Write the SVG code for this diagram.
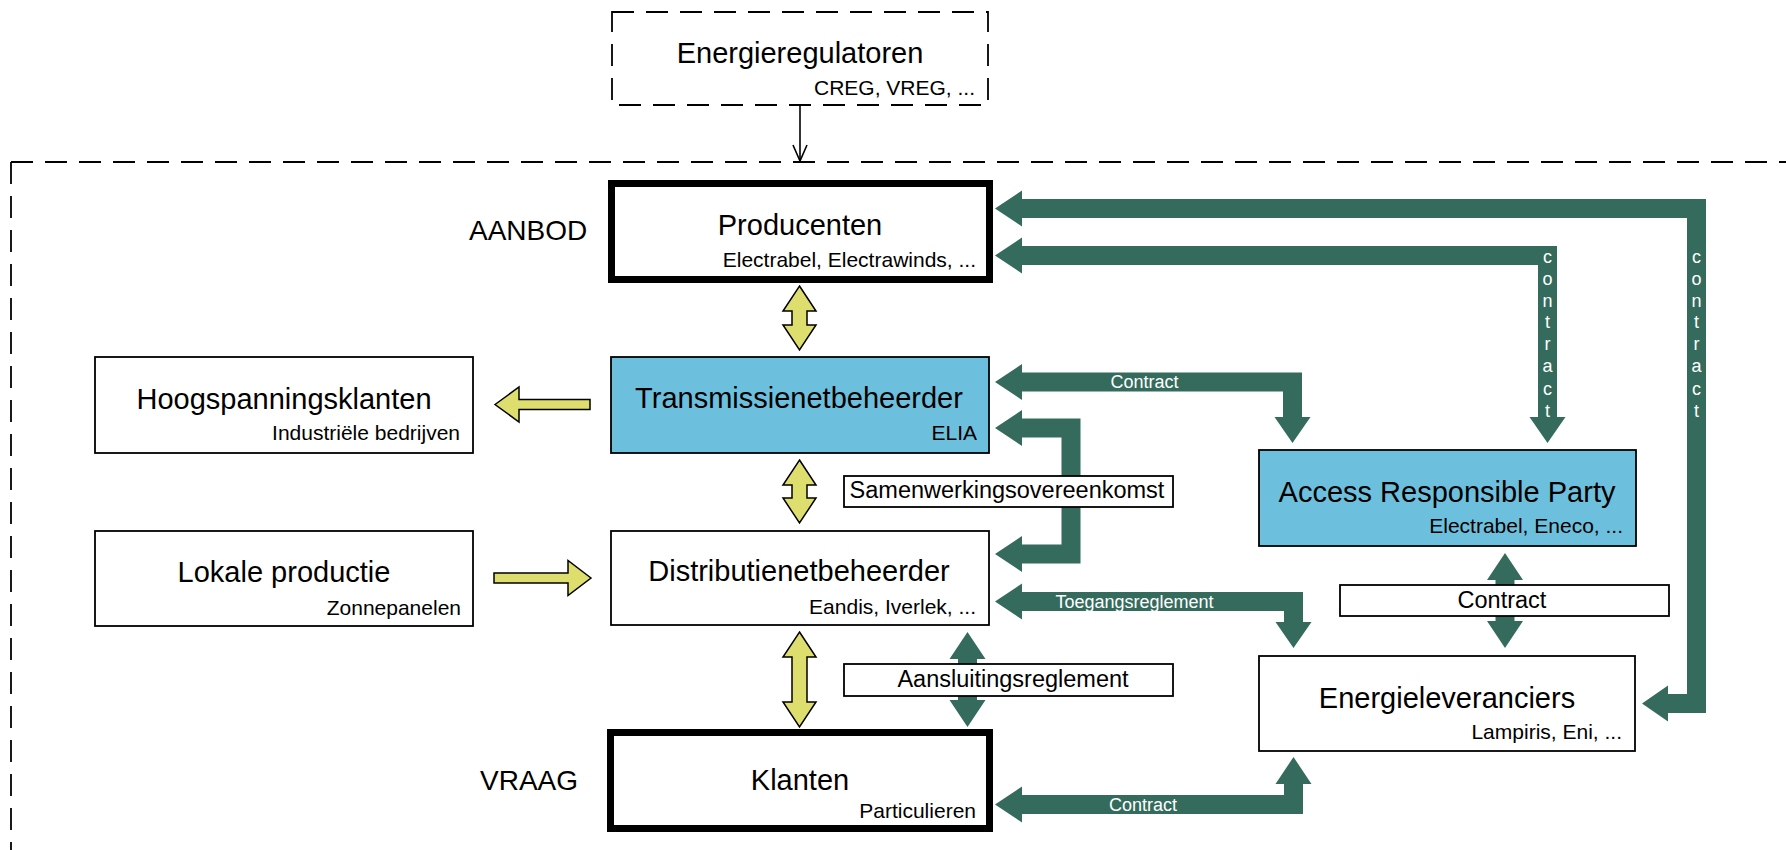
<svg xmlns="http://www.w3.org/2000/svg" width="1786" height="850" viewBox="0 0 1786 850">
<style>
.t{font-family:"Liberation Sans",Arial,sans-serif;fill:#000}
.title{font-size:29px;text-anchor:middle}
.sub{font-size:21px;text-anchor:end}
.side{font-size:28px}
.lbl{font-size:23.5px;text-anchor:middle}
.wl{font-size:18px;fill:#fff;text-anchor:middle}
.box{fill:#fff;stroke:#000;stroke-width:1.8}
.blue{fill:#6cc0dd}
.thick{fill:#fff;stroke:#000;stroke-width:7}
.g{fill:#356b5c}
.y{fill:#dede6e;stroke:#000;stroke-width:1.5;stroke-linejoin:miter}
.dash{fill:none;stroke:#000;stroke-width:1.8;stroke-dasharray:22 12}
.ln{fill:none;stroke:#000;stroke-width:1.6}
</style>
<rect x="0" y="0" width="1786" height="850" fill="#fff"/>

<g id="frame">
  <path class="dash" d="M11,162 H1786 M11,162 V850"/>
</g>

<g id="connectors">
  <!-- regulator to frame -->
  <line class="ln" x1="800" y1="105" x2="800" y2="161"/>
  <polyline class="ln" points="793,145 800,161 807,145"/>

  <!-- green block arrows -->
  <polygon class="g" points="995,208.5 1022,190.5 1022,199 1706,199 1706,713 1668,713 1668,721.5 1642,703.5 1668,685.5 1668,694 1687,694 1687,218 1022,218 1022,226.5"/>
  <polygon class="g" points="995,255.5 1022,237.5 1022,246 1557,246 1557,417 1565.5,417 1547.5,443 1529.5,417 1538,417 1538,265 1022,265 1022,273.5"/>
  <polygon class="g" points="995,382 1022,364 1022,372.5 1302,372.5 1302,417 1310.5,417 1292.5,443 1274.5,417 1283,417 1283,391.5 1022,391.5 1022,400"/>
  <polygon class="g" points="995,428 1022,410 1022,418.5 1080.5,418.5 1080.5,563.5 1022,563.5 1022,572 995,554 1022,536 1022,544.5 1061.5,544.5 1061.5,437.5 1022,437.5 1022,446"/>
  <polygon class="g" points="995,601.5 1022,583.5 1022,592 1303,592 1303,622 1311.5,622 1293.5,648 1275.5,622 1284,622 1284,611 1022,611 1022,619.5"/>
  <polygon class="g" points="995,804.5 1022,786.5 1022,795 1284,795 1284,784 1275.5,784 1293.5,757 1311.5,784 1303,784 1303,814 1022,814 1022,822.5"/>
  <polygon class="g" points="967.5,632 985.5,659 977,659 977,700 985.5,700 967.5,727 949.5,700 958,700 958,659 949.5,659"/>
  <polygon class="g" points="1505,553 1523,580 1514.5,580 1514.5,621 1523,621 1505,648 1487,621 1495.5,621 1495.5,580 1487,580"/>

  <!-- white labels on green arrows -->
  <text class="t wl" x="1144.5" y="388">Contract</text>
  <text class="t wl" x="1134.5" y="608">Toegangsreglement</text>
  <text class="t wl" x="1143" y="811">Contract</text>
  <text class="t wl"><tspan x="1547.5" y="263">c</tspan><tspan x="1547.5" y="285">o</tspan><tspan x="1547.5" y="307">n</tspan><tspan x="1547.5" y="328">t</tspan><tspan x="1547.5" y="350">r</tspan><tspan x="1547.5" y="372">a</tspan><tspan x="1547.5" y="395">c</tspan><tspan x="1547.5" y="417">t</tspan></text>
  <text class="t wl"><tspan x="1696.5" y="263">c</tspan><tspan x="1696.5" y="285">o</tspan><tspan x="1696.5" y="307">n</tspan><tspan x="1696.5" y="328">t</tspan><tspan x="1696.5" y="350">r</tspan><tspan x="1696.5" y="372">a</tspan><tspan x="1696.5" y="395">c</tspan><tspan x="1696.5" y="417">t</tspan></text>

  <!-- yellow arrows -->
  <polygon class="y" points="799.5,286 816,311 807,311 807,325 816,325 799.5,350 783,325 792,325 792,311 783,311"/>
  <polygon class="y" points="799.5,460 816,485 807,485 807,498 816,498 799.5,523 783,498 792,498 792,485 783,485"/>
  <polygon class="y" points="799.5,632 816,657 807,657 807,702 816,702 799.5,727 783,702 792,702 792,657 783,657"/>
  <polygon class="y" points="495,404.5 519,387 519,399.5 590,399.5 590,409.5 519,409.5 519,422"/>
  <polygon class="y" points="591,578 568,560.5 568,573 494,573 494,583 568,583 568,595.5"/>

  <!-- boxed labels -->
  <g id="lbl-samenwerking">
    <rect class="box" x="844" y="476" width="329" height="31"/>
    <text class="t lbl" x="1007" y="498">Samenwerkingsovereenkomst</text>
  </g>
  <g id="lbl-aansluiting">
    <rect class="box" x="844" y="664" width="329" height="32"/>
    <text class="t lbl" x="1013" y="687">Aansluitingsreglement</text>
  </g>
  <g id="lbl-contract">
    <rect class="box" x="1340" y="585" width="329" height="31"/>
    <text class="t lbl" x="1502" y="608">Contract</text>
  </g>
</g>

<g id="energieregulatoren">
  <rect class="dash" x="612" y="12" width="376" height="93"/>
  <text class="t title" x="800" y="63">Energieregulatoren</text>
  <text class="t sub" x="975" y="95">CREG, VREG, ...</text>
</g>

<g id="aanbod"><text class="t side" x="469" y="240">AANBOD</text></g>
<g id="vraag"><text class="t side" x="480" y="790">VRAAG</text></g>

<g id="producenten">
  <rect class="thick" x="611.5" y="183.5" width="378" height="96"/>
  <text class="t title" x="800" y="235">Producenten</text>
  <text class="t sub" x="976" y="267">Electrabel, Electrawinds, ...</text>
</g>

<g id="transmissie">
  <rect class="box blue" x="611" y="357" width="378" height="96"/>
  <text class="t title" x="799" y="408">Transmissienetbeheerder</text>
  <text class="t sub" x="977" y="440">ELIA</text>
</g>

<g id="distributie">
  <rect class="box" x="611" y="531" width="378" height="94"/>
  <text class="t title" x="799" y="581">Distributienetbeheerder</text>
  <text class="t sub" x="976" y="614">Eandis, Iverlek, ...</text>
</g>

<g id="klanten">
  <rect class="thick" x="610.5" y="732.5" width="379" height="96"/>
  <text class="t title" x="800" y="790">Klanten</text>
  <text class="t sub" x="976" y="818">Particulieren</text>
</g>

<g id="hoogspanning">
  <rect class="box" x="95" y="357" width="378" height="96"/>
  <text class="t title" x="284" y="409">Hoogspanningsklanten</text>
  <text class="t sub" x="460" y="440">Industriële bedrijven</text>
</g>

<g id="lokale">
  <rect class="box" x="95" y="531" width="378" height="95"/>
  <text class="t title" x="284" y="582">Lokale productie</text>
  <text class="t sub" x="461" y="615">Zonnepanelen</text>
</g>

<g id="arp">
  <rect class="box blue" x="1259" y="450" width="377" height="96"/>
  <text class="t title" x="1447" y="502">Access Responsible Party</text>
  <text class="t sub" x="1623" y="533">Electrabel, Eneco, ...</text>
</g>

<g id="energieleveranciers">
  <rect class="box" x="1259" y="656" width="376" height="95"/>
  <text class="t title" x="1447" y="708">Energieleveranciers</text>
  <text class="t sub" x="1622" y="739">Lampiris, Eni, ...</text>
</g>
</svg>
